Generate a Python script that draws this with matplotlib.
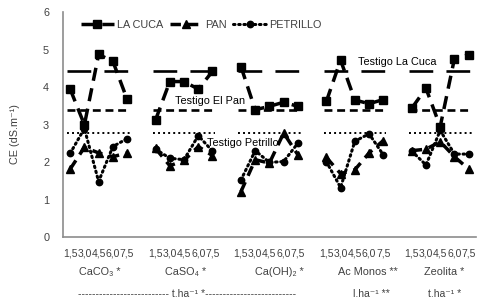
import numpy as np
import matplotlib.pyplot as plt
from matplotlib.transforms import blended_transform_factory

plt.rcParams['font.family'] = ['Liberation Sans', 'DejaVu Sans']

# doses per product (category labels)
doses = ["1,5", "3,0", "4,5", "6,0", "7,5"]
products = ["CaCO₃ *", "CaSO₄ *", "Ca(OH)₂ *", "Ac Monos **", "Zeolita *"]

# CE values per product group
la_cuca = [[3.95, 3.00, 4.87, 4.69, 3.68],
           [3.13, 4.15, 4.15, 3.95, 4.42],
           [4.55, 3.40, 3.49, 3.60, 3.49],
           [3.62, 4.72, 3.66, 3.56, 3.67],
           [3.44, 3.97, 2.95, 4.76, 4.86]]
pan = [[1.82, 2.40, 2.25, 2.15, 2.25],
       [2.37, 1.91, 2.05, 2.42, 2.18],
       [1.22, 2.07, 1.98, 2.78, 2.20],
       [2.13, 1.70, 1.80, 2.25, 2.58],
       [2.31, 2.35, 2.55, 2.15, 1.82]]
petrillo = [[2.24, 2.90, 1.49, 2.42, 2.63],
            [2.35, 2.11, 2.07, 2.71, 2.30],
            [1.53, 2.31, 2.00, 2.02, 2.51],
            [2.02, 1.33, 2.56, 2.76, 2.20],
            [2.30, 1.93, 2.85, 2.22, 2.22]]

# control (testigo) values
ref_cuca = 4.43
ref_pan = 3.39
ref_petrillo = 2.79

n_groups = len(products)
n_dose = len(doses)
step = n_dose + 1
n_cat = n_groups * step - 1
x = np.arange(n_cat)


def expand(groups):
    arr = np.full(n_cat, np.nan)
    for g, vals in enumerate(groups):
        arr[g * step:g * step + n_dose] = vals
    return arr


labels = []
for g in range(n_groups):
    labels += doses
    if g < n_groups - 1:
        labels.append("")

fig = plt.figure(figsize=(4.85, 3.01), dpi=100)
ax = fig.add_axes([0.130, 0.211, 0.851, 0.749])

txt_col = '#404040'
fs = 7.8

# control lines per group
for g in range(n_groups):
    x0, x1 = g * step - 0.2, g * step + n_dose - 1 + 0.2
    ax.plot([x0, x1], [ref_cuca] * 2, color='black', lw=1.9, ls=(0, (9, 5)))
    ax.plot([x0, x1], [ref_pan] * 2, color='black', lw=1.9, ls=(0, (3, 1.8)))
    ax.plot([x0, x1], [ref_petrillo] * 2, color='black', lw=1.4, ls=(0, (1, 1.6)))

ax.plot(x, expand(la_cuca), color='black', lw=2.5, ls=(0, (3.8, 2.2)),
        marker='s', ms=5.2, label='LA CUCA')
ax.plot(x, expand(pan), color='black', lw=2.5, ls=(0, (3.0, 2)),
        marker='^', ms=5.8, label='PAN')
ax.plot(x, expand(petrillo), color='black', lw=2.2, ls=(0, (0.5, 1.2)),
        dash_capstyle='round', marker='o', ms=4.6, label='PETRILLO')

ax.text(20.2, 4.68, "Testigo La Cuca", fontsize=fs, color='black', va='center')
ax.text(7.35, 3.63, "Testigo El Pan", fontsize=fs, color='black', va='center')
ax.text(9.6, 2.52, "Testigo Petrillo", fontsize=fs, color='black', va='center')

ax.set_xlim(-0.5, n_cat - 0.5)
ax.set_ylim(0, 6)
ax.set_yticks(range(7))
ax.set_xticks(x)
ax.set_xticklabels(labels)
ax.tick_params(axis='both', length=0, labelsize=7.5, colors=txt_col)
ax.tick_params(axis='x', pad=8)
ax.tick_params(axis='y', pad=10, labelsize=fs)
for s in ['top', 'right']:
    ax.spines[s].set_visible(False)
for s in ['left', 'bottom']:
    ax.spines[s].set_color('#8c8c8c')
    ax.spines[s].set_linewidth(1.2)

ax.set_ylabel("CE (dS.m⁻¹)", fontsize=fs, color=txt_col, labelpad=14)
ax.yaxis.set_label_coords(-0.105, 0.46)

# product names and units below the axis
tr = blended_transform_factory(ax.transData, ax.transAxes)
name_x = [2.1, 8.1, 14.7, 20.9, 26.3]
for nx, name in zip(name_x, products):
    ax.text(nx, -0.153, name, transform=tr, ha='center', va='center',
            fontsize=fs, color=txt_col)
ax.text(8.2, -0.25, "-" * 26 + " t.ha⁻¹ *" + "-" * 26, transform=tr,
        ha='center', va='center', fontsize=7.5, color=txt_col)
ax.text(21.2, -0.25, "l.ha⁻¹ **", transform=tr, ha='center', va='center',
        fontsize=7.5, color=txt_col)
ax.text(26.3, -0.25, "t.ha⁻¹ *", transform=tr, ha='center', va='center',
        fontsize=7.5, color=txt_col)

ax.legend(loc='upper left', bbox_to_anchor=(0.02, 1.01), ncol=3, frameon=False,
          fontsize=fs, handlelength=3.0, handletextpad=0.3, columnspacing=0.6,
          labelcolor=txt_col)

fig.savefig("out.png", dpi=100)
